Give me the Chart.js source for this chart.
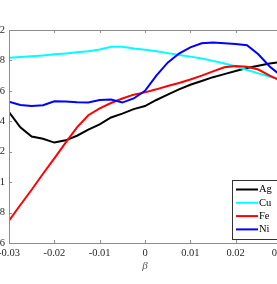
<!DOCTYPE html>
<html>
<head>
<meta charset="utf-8">
<script src="https://cdn.jsdelivr.net/npm/chart.js@4.4.0/dist/chart.umd.min.js"></script>
<style>
html,body{margin:0;padding:0;background:#fff;overflow:hidden;width:277px;height:284px;}
#wrap{position:relative;width:277px;height:284px;overflow:hidden;}
#c{position:absolute;left:-40px;top:0;}
</style>
</head>
<body>
<div id="wrap"><canvas id="c" width="340" height="284"></canvas></div>
<script>
const betas = [-0.03,-0.0275,-0.025,-0.0225,-0.02,-0.0175,-0.015,-0.0125,-0.01,-0.0075,-0.005,-0.0025,0,
               0.0025,0.005,0.0075,0.01,0.0125,0.015,0.0175,0.02,0.0225,0.025,0.0275,0.03];
const ag = [1.46,1.36,1.30,1.285,1.26,1.275,1.305,1.345,1.38,1.425,1.45,1.48,1.50,
            1.54,1.575,1.61,1.64,1.665,1.69,1.71,1.73,1.75,1.765,1.78,1.79];
const cu = [1.818,1.822,1.827,1.833,1.84,1.846,1.853,1.86,1.872,1.89,1.89,1.878,1.87,
            1.86,1.848,1.835,1.825,1.813,1.797,1.78,1.76,1.737,1.715,1.693,1.675];
const fe = [0.746,0.85,0.95,1.055,1.156,1.26,1.36,1.44,1.485,1.52,1.55,1.575,1.59,
            1.61,1.632,1.652,1.675,1.70,1.728,1.755,1.763,1.758,1.74,1.70,1.665];
const ni = [1.529,1.507,1.50,1.506,1.532,1.53,1.525,1.523,1.54,1.543,1.523,1.55,1.60,
            1.70,1.785,1.845,1.886,1.913,1.918,1.913,1.908,1.90,1.84,1.76,1.70];
const xTicks = [-0.03,-0.02,-0.01,0,0.01,0.02,0.03];
const yTicks = [0.6,0.8,1,1.2,1.4,1.6,1.8,2];

const toPts = arr => arr.map((v, i) => ({x: betas[i], y: v}));
const serif = '"Liberation Serif", "DejaVu Serif", serif';

// frame, inward ticks and legend box like matlab
const frame = {
    id: 'frame',
    afterDraw(chart){
        const {ctx, chartArea: a, scales: {x, y}} = chart;
        ctx.save();
        ctx.strokeStyle = '#8c8c8c';
        ctx.lineWidth = 1;
        ctx.strokeRect(a.left + 0.5, a.top + 0.5, a.right - a.left, a.bottom - a.top);
        ctx.beginPath();
        xTicks.forEach(v => {
            const px = Math.round(x.getPixelForValue(v)) + 0.5;
            ctx.moveTo(px, a.bottom); ctx.lineTo(px, a.bottom - 3);
            ctx.moveTo(px, a.top); ctx.lineTo(px, a.top + 3);
        });
        yTicks.forEach(v => {
            const py = Math.round(y.getPixelForValue(v)) + 0.5;
            ctx.moveTo(a.left, py); ctx.lineTo(a.left + 3, py);
            ctx.moveTo(a.right, py); ctx.lineTo(a.right - 3, py);
        });
        ctx.stroke();

        const bx = a.right - 49, by = a.bottom - 63;
        ctx.fillStyle = '#fff';
        ctx.fillRect(bx, by, 46, 59);
        ctx.strokeStyle = '#333';
        ctx.strokeRect(bx + 0.5, by + 0.5, 46, 59);
        ctx.font = '10.5px ' + serif;
        ctx.textBaseline = 'middle';
        ctx.textAlign = 'left';
        chart.data.datasets.forEach((ds, i) => {
            const ry = by + 9.5 + i * 13.3;
            ctx.strokeStyle = ds.borderColor;
            ctx.lineWidth = 2;
            ctx.beginPath();
            ctx.moveTo(bx + 4, ry); ctx.lineTo(bx + 26, ry);
            ctx.stroke();
            ctx.fillStyle = '#000';
            ctx.fillText(ds.label, bx + 27, ry);
        });
        ctx.restore();
    }
};

const mkSet = (label, data, color, order) => ({
    label: label,
    data: toPts(data),
    borderColor: color,
    backgroundColor: color,
    borderWidth: 2,
    pointRadius: 0,
    tension: 0,
    fill: false,
    order: order
});

new Chart(document.getElementById('c').getContext('2d'), {
    type: 'line',
    data: {
        datasets: [
            mkSet('Ag', ag, '#000000', 3),
            mkSet('Cu', cu, '#00ffff', 2),
            mkSet('Fe', fe, '#ff0000', 1),
            mkSet('Ni', ni, '#0000ff', 0)
        ]
    },
    options: {
        responsive: false,
        animation: false,
        devicePixelRatio: 1,
        layout: {padding: {top: 30, right: 19, left: 0, bottom: 0}},
        plugins: {legend: {display: false}, tooltip: {enabled: false}},
        scales: {
            x: {
                type: 'linear',
                min: -0.03, max: 0.03,
                grid: {display: false, drawTicks: false},
                border: {display: false},
                afterBuildTicks: s => { s.ticks = xTicks.map(v => ({value: v})); },
                afterFit: s => { s.height = 41; },
                ticks: {
                    padding: 4,
                    color: '#262626',
                    font: {family: serif, size: 10.5},
                    maxRotation: 0,
                    callback: v => String(v)
                },
                title: {
                    display: true,
                    text: 'β',
                    color: '#555',
                    font: {family: serif, size: 11, style: 'italic'},
                    padding: {top: 0, bottom: 11}
                }
            },
            y: {
                min: 0.6, max: 2,
                grid: {display: false, drawTicks: false},
                border: {display: false},
                afterBuildTicks: s => { s.ticks = yTicks.map(v => ({value: v})); },
                afterFit: s => { s.width = 49; },
                ticks: {
                    padding: 4,
                    color: '#262626',
                    font: {family: serif, size: 10.5},
                    callback: v => String(v)
                }
            }
        }
    },
    plugins: [frame]
});
</script>
</body>
</html>
